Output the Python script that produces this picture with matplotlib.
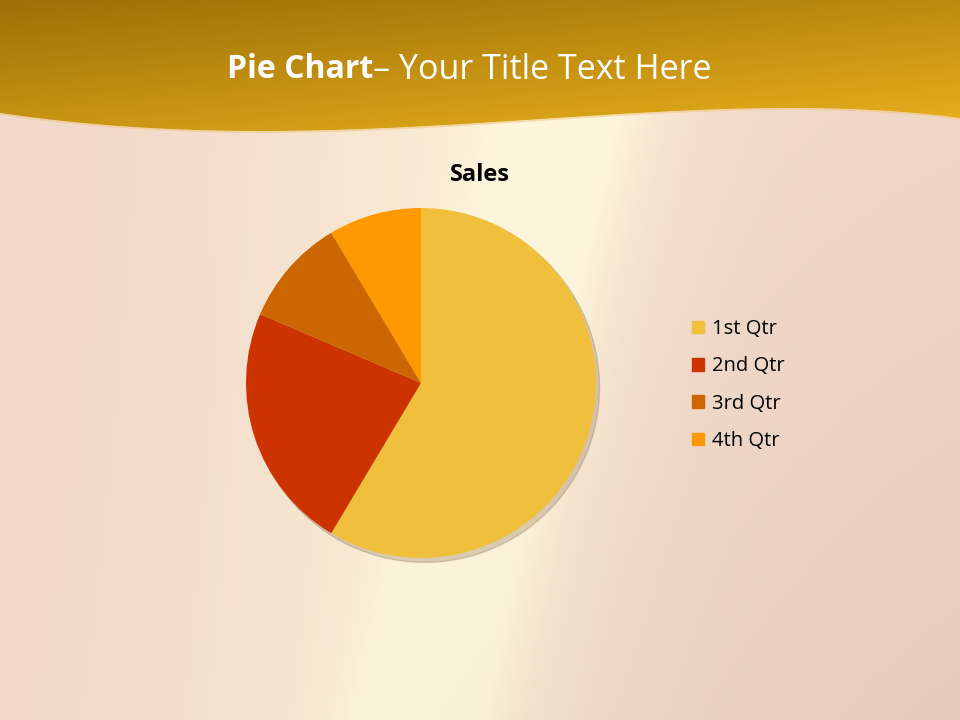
import numpy as np
import matplotlib.pyplot as plt
from matplotlib.patches import Circle

plt.rcParams['font.family'] = ['Open Sans', 'DejaVu Sans']

quarters = ['1st Qtr', '2nd Qtr', '3rd Qtr', '4th Qtr']
sales = [8.2, 3.2, 1.4, 1.2]
colors = ['#F0BF3C', '#CC3300', '#CC6600', '#FF9900']

W, H = 960, 720
fig = plt.figure(figsize=(9.6, 7.2), dpi=100)

# background: warm gradient with a light glow streak
bg = fig.add_axes([0, 0, 1, 1])
xx, yy = np.meshgrid(np.linspace(0, 1, W), np.linspace(0, 1, H))
pink = np.array([0.95, 0.85, 0.79])
cream = np.array([1.0, 0.97, 0.87])
streak = np.exp(-((xx - 0.62 + 0.18 * yy) / 0.08) ** 2) * 0.9
wide = np.exp(-((xx - 0.50 + 0.10 * yy) / 0.24) ** 2) * 0.6
glow = np.clip(streak + wide, 0, 1)
img = pink * (1 - glow[..., None]) + cream * glow[..., None]
img = img - 0.05 * (xx * yy)[..., None]
bg.imshow(img, extent=[0, W, H, 0], aspect='auto')

# gold header band with wavy lower edge
px = np.linspace(0, W, 300)
wave = np.polyfit([0, 250, 480, 700, 960], [113, 131, 123, 110, 118], 4)
edge = np.polyval(wave, px)
hx, hy = np.meshgrid(np.linspace(0, 1, W), np.linspace(0, 1, 140))
dark = np.array([0.61, 0.44, 0.02])
gold = np.array([0.93, 0.70, 0.12])
t = np.clip(0.6 * hy + 0.4 * hx, 0, 1)[..., None]
band = dark * (1 - t) + gold * t
im = bg.imshow(band, extent=[0, W, 140, 0], aspect='auto')
clip = bg.fill_between(px, 0, edge, color='none')
im.set_clip_path(clip.get_paths()[0], transform=bg.transData)
bg.plot(px, edge + 1, color='#f0c880', lw=1.2, alpha=0.6)
bg.set_xlim(0, W)
bg.set_ylim(H, 0)
bg.axis('off')

# slide title: bold part followed by regular part
t1 = fig.text(227 / W, 1 - 70 / H, 'Pie Chart', fontsize=23, fontweight='bold',
              color='white', ha='left', va='center')
fig.canvas.draw()
x_end = t1.get_window_extent().x1
fig.text(x_end / W, 1 - 70 / H, '– Your Title Text Here', fontsize=24.5,
         color='white', ha='left', va='center')

# pie
cx, cy, r = 421, 383, 175
pad = 1.05
ax = fig.add_axes([(cx - r * pad) / W, (H - cy - r * pad) / H,
                   2 * r * pad / W, 2 * r * pad / H])
ax.add_patch(Circle((0.02, -0.025), 1.0, color='#7a5a40', alpha=0.25, zorder=0))
ax.pie(sales, colors=colors, startangle=90, counterclock=False, radius=1.0,
       wedgeprops={'linewidth': 0})
ax.set_xlim(-pad, pad)
ax.set_ylim(-pad, pad)
ax.set_aspect('equal')
ax.axis('off')

fig.text(480 / W, 1 - 175 / H, 'Sales', fontsize=17, fontweight='bold',
         color='black', ha='center', va='center')

handles = [plt.Rectangle((0, 0), 1, 1, color=c) for c in colors]
fig.legend(handles, quarters, loc='upper left',
           bbox_to_anchor=(684 / W, 1 - 311 / H), frameon=False,
           borderaxespad=0, fontsize=14.5, handlelength=0.6, handleheight=0.6,
           handletextpad=0.4, labelspacing=0.86)

fig.savefig('out.png', dpi=100)
